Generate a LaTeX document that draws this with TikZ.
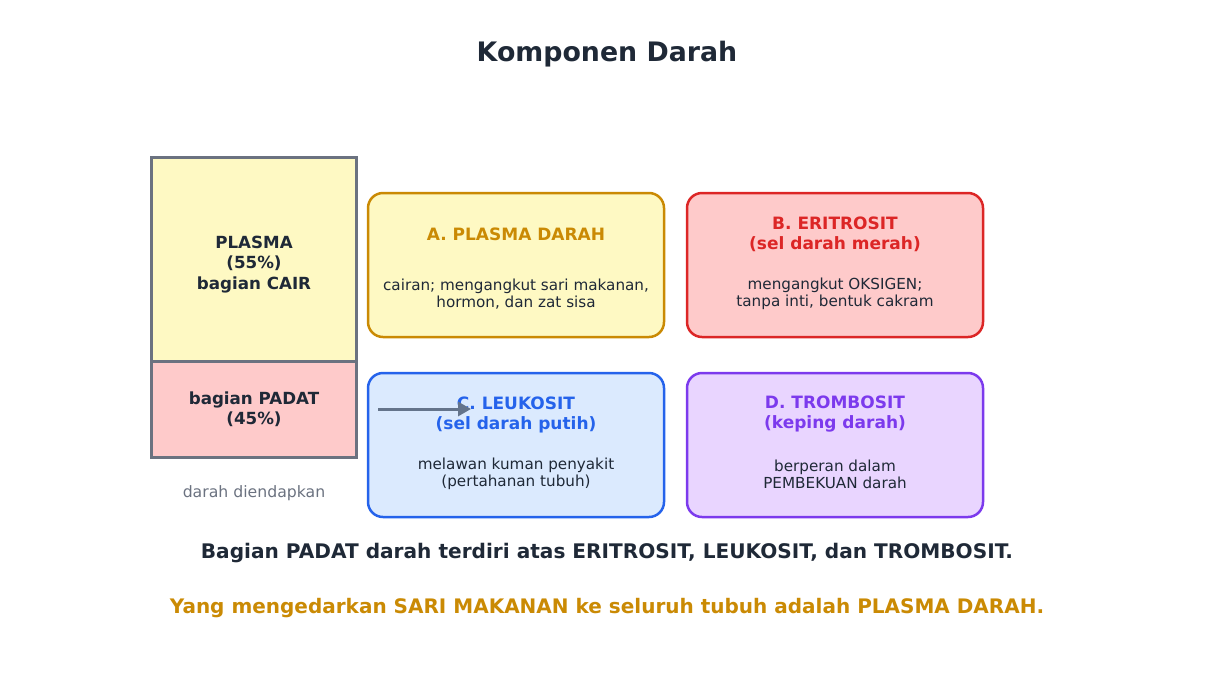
\documentclass[tikz,border=0pt]{standalone}
\usepackage{fontspec}
\setmainfont{DejaVu Sans}
\usetikzlibrary{arrows.meta}
\definecolor{ink}{HTML}{1F2937}
\definecolor{tubeline}{HTML}{6B7280}
\definecolor{plasmafill}{HTML}{FEF9C3}
\definecolor{padatfill}{HTML}{FECACA}
\definecolor{goldline}{HTML}{CA8A04}
\definecolor{redline}{HTML}{DC2626}
\definecolor{blueline}{HTML}{2563EB}
\definecolor{bluefill}{HTML}{DBEAFE}
\definecolor{purpleline}{HTML}{7C3AED}
\definecolor{purplefill}{HTML}{E9D5FF}
\definecolor{arrowgray}{HTML}{64748B}
\begin{document}
\begin{tikzpicture}[x=1pt, y=-1pt,
	tube/.style = {draw = tubeline, line width = 3pt, minimum width = 205pt},
	tubetext/.style = {text = ink, align = center, font = \fontsize{16.7}{20.5}\selectfont\bfseries},
	card/.style = {draw, rounded corners = 15pt, line width = 2.5pt, minimum width = 296pt, minimum height = 144pt},
	head/.style = {align = center, font = \fontsize{17}{20}\selectfont\bfseries},
	body/.style = {align = center, text = ink, font = \fontsize{15.2}{17}\selectfont}]
	\useasboundingbox (0,0) rectangle (1214,675);
	\node[text = ink, font = \fontsize{26.8}{30}\selectfont\bfseries] (title) at (607,54) {Komponen Darah};
	% tabung darah diendapkan
	\node[tube, fill = plasmafill, minimum height = 204pt] (plasma) at (253.5,259) {};
	\node[tube, fill = padatfill, minimum height = 96pt] (padat) at (253.5,409) {};
	\node[tubetext] (plasmatext) at (254,264.5) {PLASMA\\(55\%)\\bagian CAIR};
	\node[tubetext] (padattext) at (254,409) {bagian PADAT\\(45\%)};
	\node[text = tubeline, font = \fontsize{15.7}{18}\selectfont] (note) at (254,493) {darah diendapkan};
	% empat komponen
	\node[card, draw = goldline, fill = plasmafill] (A) at (516,265) {};
	\node[card, draw = redline, fill = padatfill] (B) at (835,265) {};
	\node[card, draw = blueline, fill = bluefill] (C) at (516,445) {};
	\node[card, draw = purpleline, fill = purplefill] (D) at (835,445) {};
	\node[head, text = goldline] (Ahead) at (516,234.5) {A. PLASMA DARAH};
	\node[body] (Abody) at (516,294) {cairan; mengangkut sari makanan,\\hormon, dan zat sisa};
	\node[head, text = redline] (Bhead) at (835,234) {B. ERITROSIT\\(sel darah merah)};
	\node[body] (Bbody) at (835,294) {mengangkut OKSIGEN;\\tanpa inti, bentuk cakram};
	\coordinate (from) at (378,409);
	\coordinate (to) at (471,409);
	\node[head, text = blueline] (Chead) at (516,414.5) {C. LEUKOSIT\\(sel darah putih)};
	\node[body] (Cbody) at (516,474) {melawan kuman penyakit\\(pertahanan tubuh)};
	\node[head, text = purpleline] (Dhead) at (835,414.5) {D. TROMBOSIT\\(keping darah)};
	\node[body] (Dbody) at (835,474) {berperan dalam\\PEMBEKUAN darah};
	\draw[arrowgray, line width = 3pt, -{Triangle[length = 13pt, width = 14pt]}] (from) -- (to);
	% kesimpulan
	\node[text = ink, font = \fontsize{20.1}{23}\selectfont\bfseries] (sum1) at (607,553) {Bagian PADAT darah terdiri atas ERITROSIT, LEUKOSIT, dan TROMBOSIT.};
	\node[text = goldline, font = \fontsize{20}{23}\selectfont\bfseries] (sum2) at (607,608) {Yang mengedarkan SARI MAKANAN ke seluruh tubuh adalah PLASMA DARAH.};
\end{tikzpicture}
\end{document}
